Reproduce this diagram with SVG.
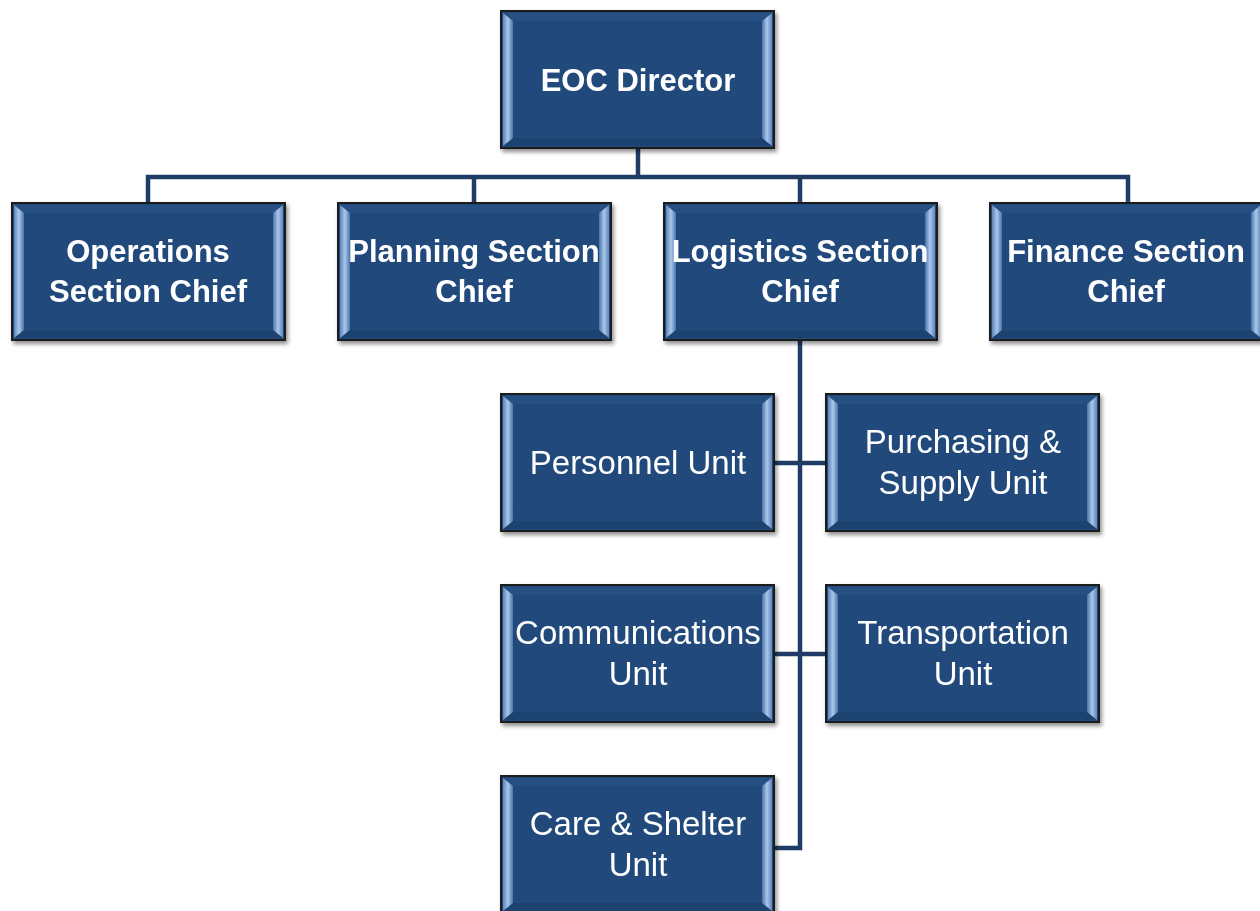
<svg xmlns="http://www.w3.org/2000/svg" width="1260" height="911" viewBox="0 0 1260 911">
<defs>
<linearGradient id="gl" x1="0" y1="0" x2="1" y2="0"><stop offset="0" stop-color="#5f86b8"/><stop offset="0.5" stop-color="#a9c7ec"/><stop offset="1" stop-color="#4a74a8"/></linearGradient>
<linearGradient id="gr" x1="0" y1="0" x2="1" y2="0"><stop offset="0" stop-color="#4a74a8"/><stop offset="0.5" stop-color="#a9c7ec"/><stop offset="1" stop-color="#5f86b8"/></linearGradient>
<filter id="sh" x="-5%" y="-5%" width="115%" height="115%"><feGaussianBlur in="SourceAlpha" stdDeviation="2"/><feOffset dx="2" dy="3"/><feComponentTransfer><feFuncA type="linear" slope="0.45"/></feComponentTransfer><feMerge><feMergeNode/><feMergeNode in="SourceGraphic"/></feMerge></filter>
<g id="box">
<rect x="0" y="0" width="273" height="137" fill="#234a7d" stroke="#1a1a1a" stroke-width="2"/>
<polygon points="2,2 271,2 261,10 12,10" fill="#284f83"/>
<polygon points="2,135 271,135 261,127 12,127" fill="#1d426f"/>
<polygon points="2,2 12,10 12,127 2,135" fill="url(#gl)"/>
<polygon points="271,2 261,10 261,127 271,135" fill="url(#gr)"/>
<rect x="12" y="10" width="249" height="117" fill="#214a7c"/>
</g>
<style>
.t{font-family:"Liberation Sans",Arial,sans-serif;fill:#fff;text-anchor:middle}
.b{font-weight:bold;font-size:31px}
.r{font-size:33px}
.c{fill:none;stroke:#1f3c66;stroke-width:4.5}
</style>
</defs>
<g id="connectors">
<path class="c" d="M638,148V177M148,203V177H1128V203M474,177V203M800,177V203"/>
<path class="c" d="M800,340V848H774M774,463H826M774,654H826"/>
</g>
<g id="eoc" filter="url(#sh)"><use href="#box" x="501" y="11"/><text class="t b" x="638" y="91">EOC Director</text></g>
<g id="operations" filter="url(#sh)"><use href="#box" x="12" y="203"/><text class="t b" x="148" y="262">Operations</text><text class="t b" x="148" y="302">Section Chief</text></g>
<g id="planning" filter="url(#sh)"><use href="#box" x="338" y="203"/><text class="t b" x="474" y="262">Planning Section</text><text class="t b" x="474" y="302">Chief</text></g>
<g id="logistics" filter="url(#sh)"><use href="#box" x="664" y="203"/><text class="t b" x="800" y="262">Logistics Section</text><text class="t b" x="800" y="302">Chief</text></g>
<g id="finance" filter="url(#sh)"><use href="#box" x="990" y="203"/><text class="t b" x="1126" y="262">Finance Section</text><text class="t b" x="1126" y="302">Chief</text></g>
<g id="personnel" filter="url(#sh)"><use href="#box" x="501" y="394"/><text class="t r" x="638" y="474">Personnel Unit</text></g>
<g id="purchasing" filter="url(#sh)"><use href="#box" x="826" y="394"/><text class="t r" x="963" y="453">Purchasing &amp;</text><text class="t r" x="963" y="494">Supply Unit</text></g>
<g id="communications" filter="url(#sh)"><use href="#box" x="501" y="585"/><text class="t r" x="638" y="644">Communications</text><text class="t r" x="638" y="685">Unit</text></g>
<g id="transportation" filter="url(#sh)"><use href="#box" x="826" y="585"/><text class="t r" x="963" y="644">Transportation</text><text class="t r" x="963" y="685">Unit</text></g>
<g id="care" filter="url(#sh)"><use href="#box" x="501" y="776"/><text class="t r" x="638" y="835">Care &amp; Shelter</text><text class="t r" x="638" y="876">Unit</text></g>
</svg>
